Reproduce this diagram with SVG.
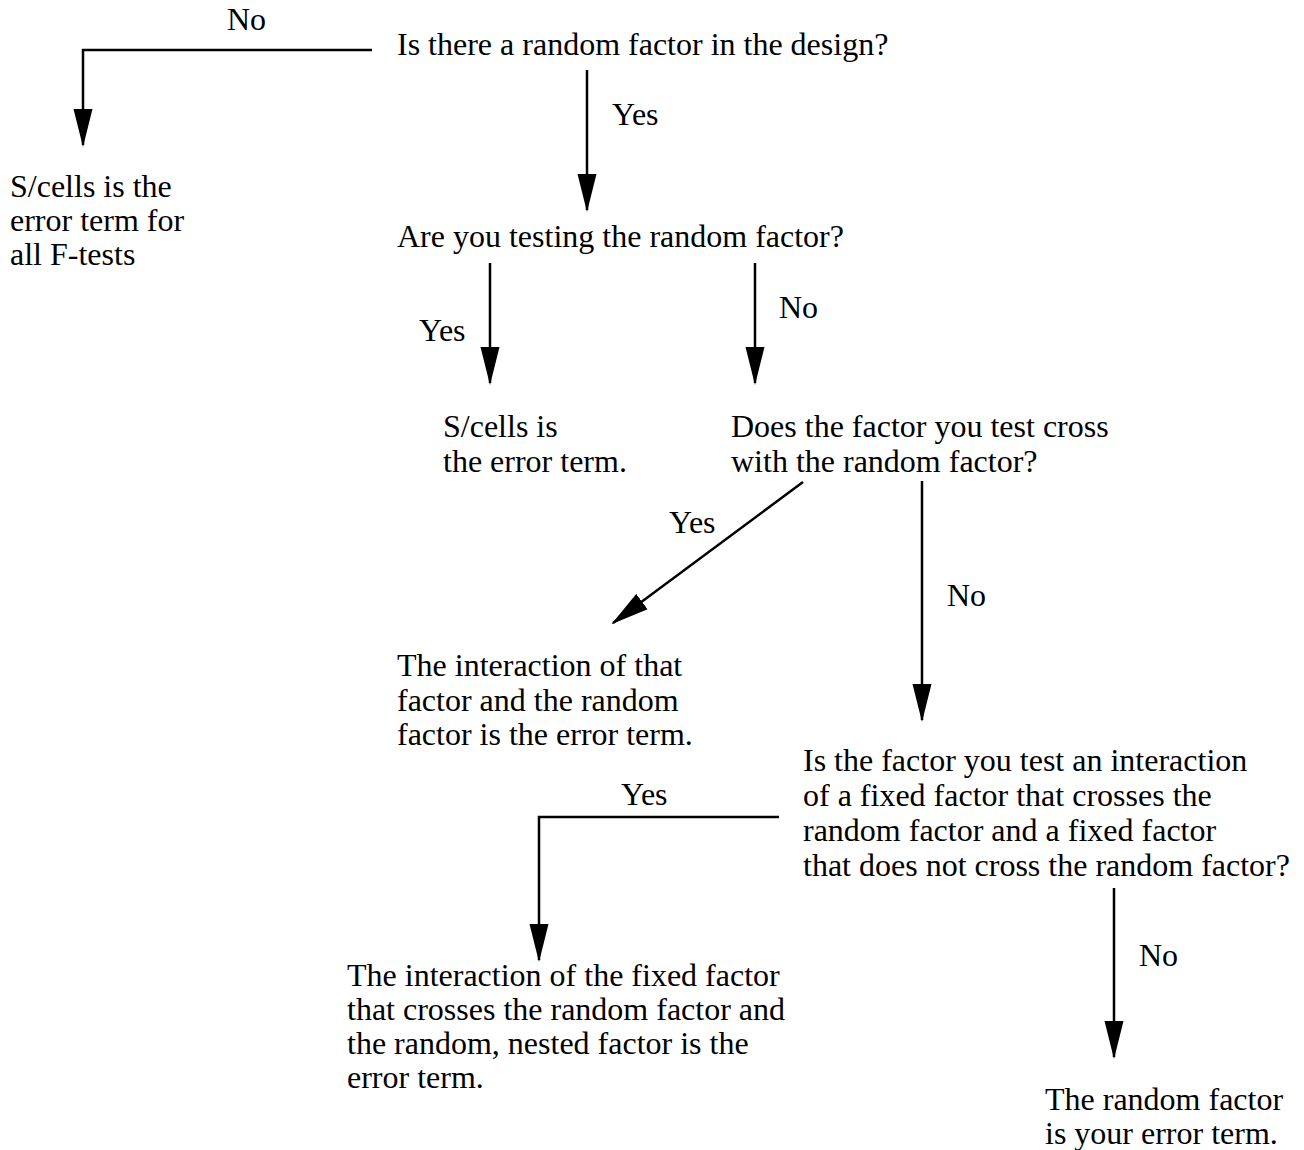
<svg xmlns="http://www.w3.org/2000/svg" width="1304" height="1150" viewBox="0 0 1304 1150">
<style>
text{font-family:"Liberation Serif","Times New Roman",serif;font-size:32px;fill:#000}
.c{fill:none;stroke:#000;stroke-width:2.5}
</style>
<defs>
<marker id="ah" markerUnits="userSpaceOnUse" markerWidth="38" markerHeight="20" refX="36" refY="10" orient="auto" viewBox="0 0 38 20">
<path d="M0,0.5 L38,10 L0,19.5 Z" fill="#000"/>
</marker>
</defs>
<rect width="1304" height="1150" fill="#fff"/>
<g id="connectors">
<path class="c" d="M372,50 H83 V145" marker-end="url(#ah)"/>
<path class="c" d="M587,70 V210" marker-end="url(#ah)"/>
<path class="c" d="M490,263 V383" marker-end="url(#ah)"/>
<path class="c" d="M755,263 V383" marker-end="url(#ah)"/>
<path class="c" d="M803,482 L613,623" marker-end="url(#ah)"/>
<path class="c" d="M922,481 V720" marker-end="url(#ah)"/>
<path class="c" d="M779,817 H539 V960" marker-end="url(#ah)"/>
<path class="c" d="M1114,888 V1057" marker-end="url(#ah)"/>
<text x="227" y="30">No</text>
<text x="612" y="125">Yes</text>
<text x="419" y="341">Yes</text>
<text x="779" y="318">No</text>
<text x="669" y="533">Yes</text>
<text x="947" y="606">No</text>
<text x="621" y="805">Yes</text>
<text x="1139" y="966">No</text>
</g>
<g id="q1"><text x="397" y="55">Is there a random factor in the design?</text></g>
<g id="a1"><text x="10" y="197">S/cells is the</text><text x="10" y="231">error term for</text><text x="10" y="265">all F-tests</text></g>
<g id="q2"><text x="397" y="247">Are you testing the random factor?</text></g>
<g id="a2"><text x="443" y="437">S/cells is</text><text x="443" y="472">the error term.</text></g>
<g id="q3"><text x="731" y="437">Does the factor you test cross</text><text x="731" y="472">with the random factor?</text></g>
<g id="a3"><text x="397" y="676">The interaction of that</text><text x="397" y="711">factor and the random</text><text x="397" y="745">factor is the error term.</text></g>
<g id="q4"><text x="803" y="771">Is the factor you test an interaction</text><text x="803" y="806">of a fixed factor that crosses the</text><text x="803" y="841">random factor and a fixed factor</text><text x="803" y="876">that does not cross the random factor?</text></g>
<g id="a4"><text x="347" y="986">The interaction of the fixed factor</text><text x="347" y="1020">that crosses the random factor and</text><text x="347" y="1054">the random, nested factor is the</text><text x="347" y="1088">error term.</text></g>
<g id="a5"><text x="1045" y="1110">The random factor</text><text x="1045" y="1144">is your error term.</text></g>
</svg>
